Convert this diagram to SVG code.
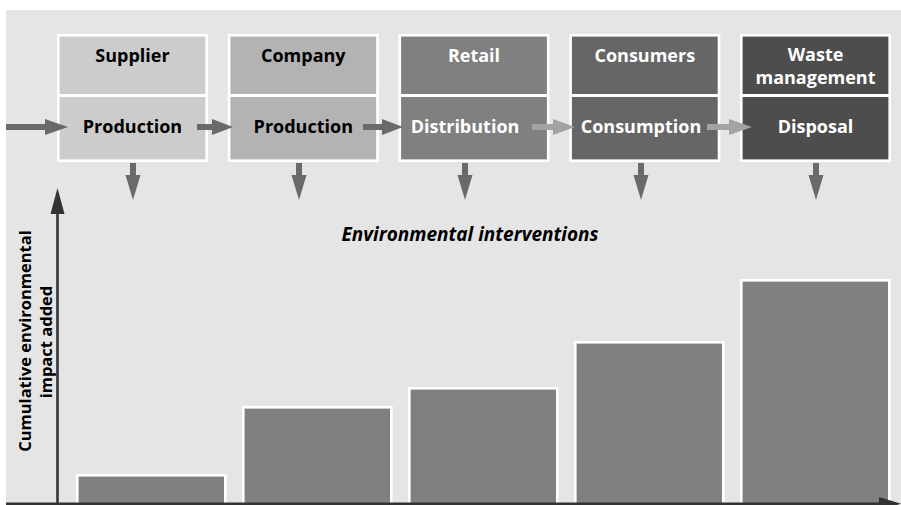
<svg xmlns="http://www.w3.org/2000/svg" width="901" height="505" viewBox="0 0 901 505">
<style>
  .box { stroke: #ffffff; stroke-width: 2.6; }
  .div { stroke: #ffffff; stroke-width: 2.8; }
  .bar { fill: #808080; stroke: #ffffff; stroke-width: 2.6; }
  .t { font-family: "Open Sans", "Noto Sans", sans-serif; font-weight: bold; font-size: 18px; text-anchor: middle; }
  .dk { fill: #000000; }
  .lt { fill: #ffffff; }
  .ax { font-family: "Open Sans", "Noto Sans", sans-serif; font-weight: bold; font-size: 16.5px; text-anchor: middle; fill: #000; }
  .ei { font-family: "Open Sans", "Noto Sans", sans-serif; font-weight: bold; font-style: italic; font-size: 19px; text-anchor: middle; fill: #000; }
  .ad { fill: #6a6a6a; }
  .al { fill: #a3a3a3; }
</style>
<rect x="6" y="10" width="895" height="495" fill="#e5e5e5"/>

<g id="bars">
  <rect class="bar" x="77.3" y="475.3" width="148" height="40"/>
  <rect class="bar" x="243.3" y="407.3" width="148" height="110"/>
  <rect class="bar" x="409.3" y="388.3" width="148" height="130"/>
  <rect class="bar" x="575.3" y="342.3" width="148" height="170"/>
  <rect class="bar" x="741.3" y="280.3" width="148" height="230"/>
</g>

<g id="supplier">
  <rect class="box" x="58.3" y="35.3" width="148.4" height="125.4" fill="#cccccc"/>
  <line class="div" x1="58.3" y1="95.5" x2="206.7" y2="95.5"/>
  <text class="t dk" x="132.5" y="61.5">Supplier</text>
  <text class="t dk" x="132.5" y="133">Production</text>
</g>
<g id="company">
  <rect class="box" x="229.1" y="35.3" width="148.4" height="125.4" fill="#b3b3b3"/>
  <line class="div" x1="229.1" y1="95.5" x2="377.5" y2="95.5"/>
  <text class="t dk" x="303.3" y="61.5">Company</text>
  <text class="t dk" x="303.3" y="133">Production</text>
</g>
<g id="retail">
  <rect class="box" x="399.8" y="35.3" width="148.4" height="125.4" fill="#808080"/>
  <line class="div" x1="399.8" y1="95.5" x2="548.2" y2="95.5"/>
  <text class="t lt" x="474" y="61.5">Retail</text>
  <text class="t lt" x="465" y="133">Distribution</text>
</g>
<g id="consumers">
  <rect class="box" x="570.6" y="35.3" width="148.4" height="125.4" fill="#666666"/>
  <line class="div" x1="570.6" y1="95.5" x2="719" y2="95.5"/>
  <text class="t lt" x="644.8" y="61.5">Consumers</text>
  <text class="t lt" x="641" y="133">Consumption</text>
</g>
<g id="waste">
  <rect class="box" x="741.3" y="35.3" width="148.4" height="125.4" fill="#4d4d4d"/>
  <line class="div" x1="741.3" y1="95.5" x2="889.7" y2="95.5"/>
  <text class="t lt" x="815.5" y="61">Waste</text>
  <text class="t lt" x="815.5" y="84">management</text>
  <text class="t lt" x="815.5" y="133">Disposal</text>
</g>

<g id="connectors">
  <!-- horizontal flow arrows -->
  <path class="ad" d="M6,124 H45 V119 L68,127 L45,135 V130 H6 Z"/>
  <path class="ad" d="M197,124 H212 V119 L233,127 L212,135 V130 H197 Z"/>
  <path class="ad" d="M363,124 H382 V119 L403,127 L382,135 V130 H363 Z"/>
  <path class="al" d="M532,124 H553 V119 L575,127 L553,135 V130 H532 Z"/>
  <path class="al" d="M707,124 H729 V119 L752,127 L729,135 V130 H707 Z"/>
  <!-- down arrows -->
  <path class="ad" d="M130,163 H136 V175 H140.5 L133,200 L125.5,175 H130 Z"/>
  <path class="ad" d="M296,163 H302 V175 H306.5 L299,200 L291.5,175 H296 Z"/>
  <path class="ad" d="M462,163 H468 V175 H472.5 L465,200 L457.5,175 H462 Z"/>
  <path class="ad" d="M638,163 H644 V175 H648.5 L641,200 L633.5,175 H638 Z"/>
  <path class="ad" d="M813,163 H819 V175 H823.5 L816,200 L808.5,175 H813 Z"/>
  <!-- axes -->
  <line x1="57.5" y1="505" x2="57.5" y2="205" stroke="#333333" stroke-width="2.6"/>
  <polygon points="57.5,188 64.5,214 50.5,214" fill="#333333"/>
  <line x1="6" y1="503.8" x2="885" y2="503.8" stroke="#333333" stroke-width="2.4"/>
  <polygon points="879,497 901,503.8 879,510" fill="#333333"/>
</g>

<text class="ei" x="470" y="241">Environmental interventions</text>
<g id="yaxis-label">
  <text class="ax" transform="translate(31,341) rotate(-90)">Cumulative environmental</text>
  <text class="ax" transform="translate(52,342) rotate(-90)">impact added</text>
</g>
</svg>
